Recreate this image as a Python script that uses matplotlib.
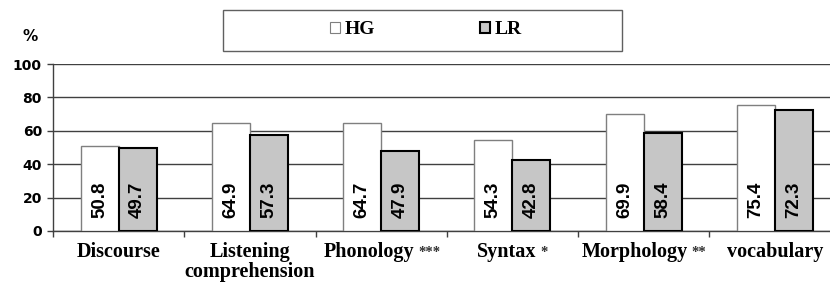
#!/usr/bin/env python3
# coding: utf-8
"""HG vs LR scores per language domain, grouped bar chart."""
import matplotlib
matplotlib.use('AGG')
import matplotlib.pyplot as plt
import matplotlib.transforms as mtransforms
import numpy as np
from matplotlib.patches import Patch

# Data
categories = ['Discourse', 'Listening\ncomprehension', 'Phonology',
              'Syntax', 'Morphology', 'vocabulary']
significance = ['', '', '***', '*', '**', '']
hg_values = [50.8, 64.9, 64.7, 54.3, 69.9, 75.4]
lr_values = [49.7, 57.3, 47.9, 42.8, 58.4, 72.3]
series_names = ['HG', 'LR']
y_ticks = [0, 20, 40, 60, 80, 100]

serif = ['Liberation Serif', 'DejaVu Serif']
sans = ['Liberation Sans', 'DejaVu Sans']

fig = plt.figure(figsize=(8.3, 2.84), dpi=100)
ax = fig.add_axes([53 / 830, 1 - 231 / 284, 1 - 53 / 830, 167 / 284])

x = np.arange(len(categories))
width = 0.29
hg_bars = ax.bar(x - width / 2, hg_values, width, color='white',
                 edgecolor='#7f7f7f', linewidth=1.0, zorder=3)
lr_bars = ax.bar(x + width / 2, lr_values, width, color='#c6c6c6',
                 edgecolor='black', linewidth=1.5, zorder=3)

# Rotated value labels near the bottom of each bar
for bars in (hg_bars, lr_bars):
    for rect in bars:
        ax.text(rect.get_x() + rect.get_width() / 2, 18.5,
                '%.1f' % rect.get_height(), rotation=90, ha='center',
                va='center', fontsize=13.5, fontweight='bold', family=sans,
                zorder=4)

ax.set_ylim(0, 100)
ax.set_xlim(-0.5, 5.42)
ax.set_yticks(y_ticks)
ax.yaxis.grid(True, color='#404040', linewidth=1.0, zorder=0)
ax.set_axisbelow(True)
for label in ax.get_yticklabels():
    label.set_fontweight('bold')
    label.set_family(['DejaVu Sans'])
    label.set_fontsize(10)
ax.tick_params(axis='y', length=4, width=1, color='#404040', pad=4)

# Category labels centred under groups, tick marks between groups
ax.set_xticks(x)
ax.set_xticklabels(categories, fontsize=14.5, fontweight='bold', family=serif,
                   linespacing=1.0)
ax.tick_params(axis='x', length=0, pad=8)
ax.set_xticks(np.arange(len(categories)) - 0.5, minor=True)
ax.tick_params(axis='x', which='minor', length=4, width=1, color='#404040')

# Small significance stars after the label; shift label so the pair is centred
star_pt = 5.0  # approx width of one star in points
for lbl, stars in zip(ax.get_xticklabels(), significance):
    if not stars:
        continue
    shift = -(len(stars) * star_pt + 3) / 2 / 72
    lbl.set_transform(lbl.get_transform() +
                      mtransforms.ScaledTranslation(shift, 0, fig.dpi_scale_trans))
    ax.annotate(stars, xy=(1, 0.5), xycoords=lbl, xytext=(3, 0),
                textcoords='offset points', ha='left', va='center',
                fontsize=10.5, fontweight='bold', family=serif, color='#303030')

for side in ('top', 'right'):
    ax.spines[side].set_visible(False)
for side in ('left', 'bottom'):
    ax.spines[side].set_color('#404040')
    ax.spines[side].set_linewidth(1.0)

fig.text(30 / 830, 1 - 37 / 284, '%', fontsize=11, fontweight='bold',
         family=['DejaVu Sans'], ha='center', va='center')

handles = [Patch(facecolor='white', edgecolor='#7f7f7f', linewidth=0.8),
           Patch(facecolor='#c6c6c6', edgecolor='black', linewidth=1.5)]
leg = fig.legend(handles, series_names, loc='center', ncol=2,
                 bbox_to_anchor=(426 / 830, 1 - 30 / 284),
                 prop={'family': serif, 'weight': 'bold', 'size': 14},
                 handlelength=0.5, handleheight=0.5, handletextpad=0.25,
                 columnspacing=5.4, fancybox=False, frameon=False,
                 borderpad=0, borderaxespad=0)
frame = plt.Rectangle((223 / 830, 1 - 51 / 284), 399 / 830, 41 / 284,
                      transform=fig.transFigure, fill=False,
                      edgecolor='#606060', linewidth=1.0)
fig.add_artist(frame)

fig.savefig('out.png', dpi=100)
